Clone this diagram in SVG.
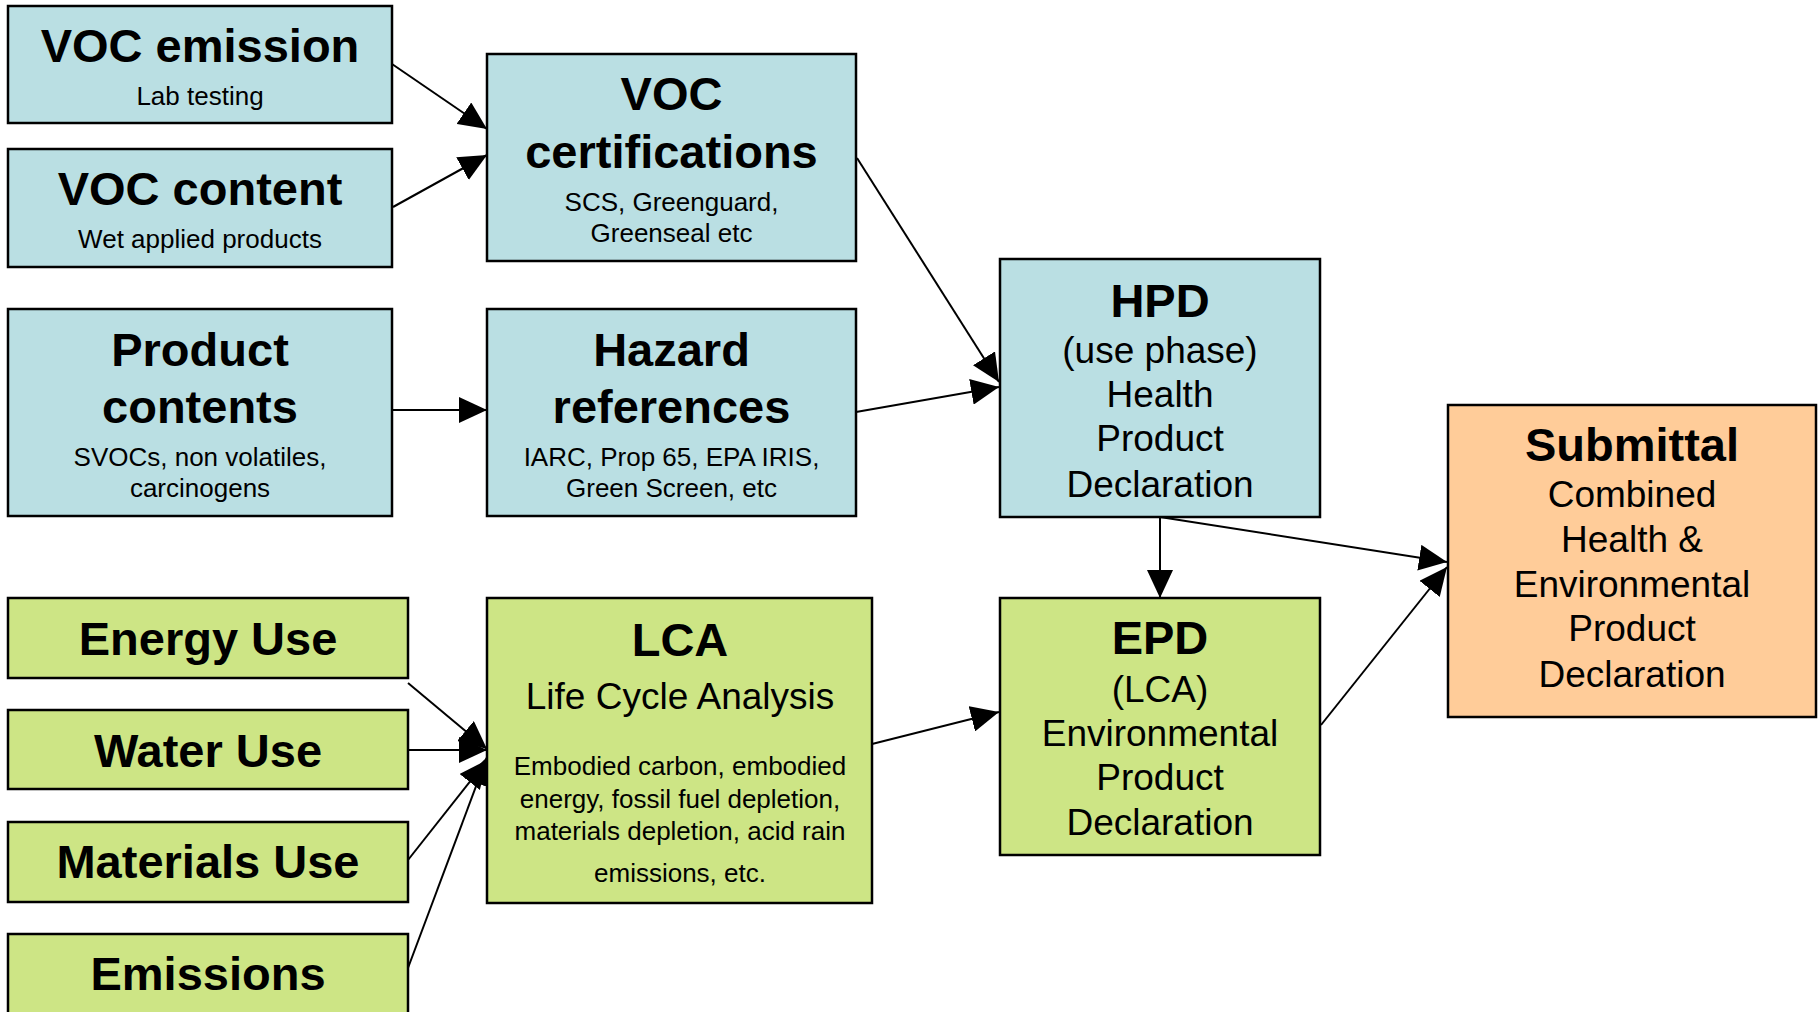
<svg xmlns="http://www.w3.org/2000/svg" width="1820" height="1012" viewBox="0 0 1820 1012">
<style>
.box{stroke:#000;stroke-width:2.5}
.blue{fill:#BADFE3}
.green{fill:#CDE585}
.orange{fill:#FFCC99}
text{font-family:"Liberation Sans",Arial,sans-serif;fill:#000;text-anchor:middle}
.t{font-size:47px;font-weight:bold}
.s{font-size:26px}
.m{font-size:37px}
.c line{stroke:#000;stroke-width:2;marker-end:url(#ah)}
</style>
<defs>
<marker id="ah" markerUnits="userSpaceOnUse" markerWidth="28" markerHeight="26" viewBox="0 0 28 26" refX="28" refY="13" orient="auto">
<path d="M0,0 L28,13 L0,26 z" fill="#000"/>
</marker>
</defs>
<rect width="1820" height="1012" fill="#fff"/>
<g class="c" id="connectors">
<line x1="392" y1="64" x2="487" y2="129"/>
<line x1="393" y1="207" x2="487" y2="155"/>
<line x1="392" y1="410" x2="487" y2="410"/>
<line x1="857" y1="158" x2="999" y2="382"/>
<line x1="856" y1="412" x2="999" y2="387"/>
<line x1="1160" y1="517" x2="1160" y2="598"/>
<line x1="1160" y1="517" x2="1447" y2="562"/>
<line x1="1321" y1="725" x2="1447" y2="567"/>
<line x1="872" y1="744" x2="999" y2="712"/>
<line x1="408" y1="683" x2="487" y2="749"/>
<line x1="408" y1="750" x2="487" y2="750"/>
<line x1="408" y1="860" x2="487" y2="760"/>
<line x1="408" y1="968" x2="487" y2="757"/>
</g>
<g id="voc-emission">
<rect class="box blue" x="8" y="6" width="384" height="117"/>
<text class="t" x="200" y="62">VOC emission</text>
<text class="s" x="200" y="105">Lab testing</text>
</g>
<g id="voc-content">
<rect class="box blue" x="8" y="149" width="384" height="118"/>
<text class="t" x="200" y="205">VOC content</text>
<text class="s" x="200" y="248">Wet applied products</text>
</g>
<g id="product-contents">
<rect class="box blue" x="8" y="309" width="384" height="207"/>
<text class="t" x="200" y="366">Product</text>
<text class="t" x="200" y="423">contents</text>
<text class="s" x="200" y="466">SVOCs, non volatiles,</text>
<text class="s" x="200" y="497">carcinogens</text>
</g>
<g id="voc-certifications">
<rect class="box blue" x="487" y="54" width="369" height="207"/>
<text class="t" x="671.5" y="110">VOC</text>
<text class="t" x="671.5" y="168">certifications</text>
<text class="s" x="671.5" y="211">SCS, Greenguard,</text>
<text class="s" x="671.5" y="242">Greenseal etc</text>
</g>
<g id="hazard-references">
<rect class="box blue" x="487" y="309" width="369" height="207"/>
<text class="t" x="671.5" y="366">Hazard</text>
<text class="t" x="671.5" y="423">references</text>
<text class="s" x="671.5" y="466">IARC, Prop 65, EPA IRIS,</text>
<text class="s" x="671.5" y="497">Green Screen, etc</text>
</g>
<g id="hpd">
<rect class="box blue" x="1000" y="259" width="320" height="258"/>
<text class="t" x="1160" y="317">HPD</text>
<text class="m" x="1160" y="363">(use phase)</text>
<text class="m" x="1160" y="407">Health</text>
<text class="m" x="1160" y="451">Product</text>
<text class="m" x="1160" y="497">Declaration</text>
</g>
<g id="submittal">
<rect class="box orange" x="1448" y="405" width="368" height="312"/>
<text class="t" x="1632" y="461">Submittal</text>
<text class="m" x="1632" y="507">Combined</text>
<text class="m" x="1632" y="552">Health &amp;</text>
<text class="m" x="1632" y="597">Environmental</text>
<text class="m" x="1632" y="641">Product</text>
<text class="m" x="1632" y="687">Declaration</text>
</g>
<g id="epd">
<rect class="box green" x="1000" y="598" width="320" height="257"/>
<text class="t" x="1160" y="654">EPD</text>
<text class="m" x="1160" y="702">(LCA)</text>
<text class="m" x="1160" y="746">Environmental</text>
<text class="m" x="1160" y="790">Product</text>
<text class="m" x="1160" y="835">Declaration</text>
</g>
<g id="lca">
<rect class="box green" x="487" y="598" width="385" height="305"/>
<text class="t" x="680" y="656">LCA</text>
<text class="m" x="680" y="709">Life Cycle Analysis</text>
<text class="s" x="680" y="775">Embodied carbon, embodied</text>
<text class="s" x="680" y="808">energy, fossil fuel depletion,</text>
<text class="s" x="680" y="840">materials depletion, acid rain</text>
<text class="s" x="680" y="882">emissions, etc.</text>
</g>
<g id="energy-use">
<rect class="box green" x="8" y="598" width="400" height="80"/>
<text class="t" x="208" y="655">Energy Use</text>
</g>
<g id="water-use">
<rect class="box green" x="8" y="710" width="400" height="79"/>
<text class="t" x="208" y="767">Water Use</text>
</g>
<g id="materials-use">
<rect class="box green" x="8" y="822" width="400" height="80"/>
<text class="t" x="208" y="878">Materials Use</text>
</g>
<g id="emissions">
<rect class="box green" x="8" y="934" width="400" height="90"/>
<text class="t" x="208" y="990">Emissions</text>
</g>
</svg>
